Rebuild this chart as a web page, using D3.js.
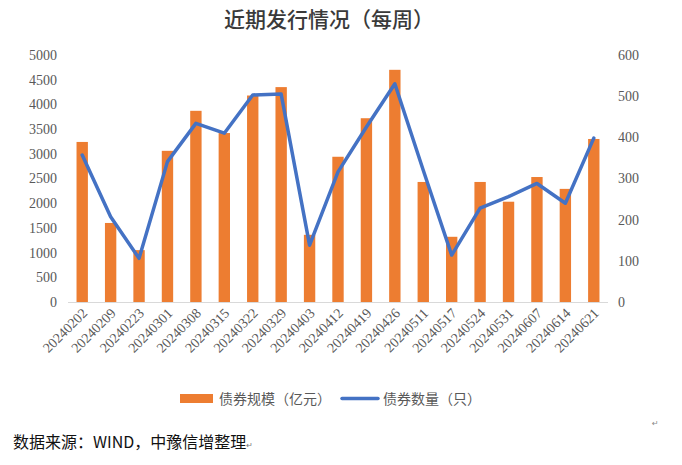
<!DOCTYPE html>
<html>
<head>
<meta charset="utf-8">
<script src="https://cdn.jsdelivr.net/npm/d3@7"></script>
<style>
  html, body { margin: 0; padding: 0; background: #fff; }
  svg { display: block; }
</style>
</head>
<body>
<svg id="chart" width="682" height="465"></svg>
<script>
const categories = ["20240202","20240209","20240223","20240301","20240308","20240315","20240322","20240329","20240403","20240412","20240419","20240426","20240511","20240517","20240524","20240531","20240607","20240614","20240621"];
const scaleValues = [3240,1600,1050,3060,3870,3420,4180,4350,1360,2940,3720,4700,2430,1320,2430,2030,2530,2290,3300];
const countValues = [357,207,106,341,434,410,503,505,138,316,425,530,320,114,228,256,288,240,398];
const leftTicks = [0,500,1000,1500,2000,2500,3000,3500,4000,4500,5000];
const rightTicks = [0,100,200,300,400,500,600];
const seriesNames = ["债券规模（亿元）","债券数量（只）"];
const titleText = "近期发行情况（每周）";
const sourceText = "数据来源：WIND，中豫信增整理";

const svg = d3.select("#chart");
const plotL = 68, plotR = 608, plotT = 55, plotB = 302;
const barColor = "#ED7D31", lineColor = "#4472C4";
const serif = "'Liberation Serif','DejaVu Serif',serif";
const cjk = "'Noto Sans CJK SC','Noto Sans',sans-serif";

const x = d3.scaleBand().domain(categories).range([plotL, plotR]).paddingInner(0.6).paddingOuter(0.3);
const yL = d3.scaleLinear().domain([0, 5000]).range([plotB, plotT]);
const yR = d3.scaleLinear().domain([0, 600]).range([plotB, plotT]);

// title
svg.append("text").attr("x", 329).attr("y", 27).attr("text-anchor", "middle")
  .attr("font-family", cjk).attr("font-size", 21).attr("font-weight", 500).attr("fill", "#3a3a3a").text(titleText);

// left axis
const gL = svg.append("g").attr("transform", `translate(${plotL - 8},0)`)
  .call(d3.axisLeft(yL).tickValues(leftTicks).tickFormat(d3.format("d")).tickSize(0).tickPadding(3));
gL.select(".domain").remove();
gL.selectAll("text").attr("font-family", serif).attr("font-size", 14).attr("fill", "#595959");

// right axis
const gR = svg.append("g").attr("transform", `translate(${plotR + 7},0)`)
  .call(d3.axisRight(yR).tickValues(rightTicks).tickFormat(d3.format("d")).tickSize(0).tickPadding(3));
gR.select(".domain").remove();
gR.selectAll("text").attr("font-family", serif).attr("font-size", 14).attr("fill", "#595959");

// bars
svg.append("g").selectAll("rect").data(categories).join("rect")
  .attr("x", d => x(d)).attr("width", x.bandwidth())
  .attr("y", (d, i) => yL(scaleValues[i]))
  .attr("height", (d, i) => yL(0) - yL(scaleValues[i]))
  .attr("fill", barColor);

// baseline
svg.append("line").attr("x1", plotL).attr("x2", plotR).attr("y1", plotB + 0.5).attr("y2", plotB + 0.5)
  .attr("stroke", "#d9d9d9").attr("stroke-width", 1);

// x axis labels
const gX = svg.append("g").attr("transform", `translate(0,${plotB})`)
  .call(d3.axisBottom(x).tickSize(0).tickPadding(0));
gX.select(".domain").remove();
gX.selectAll("text")
  .attr("font-family", serif).attr("font-size", 14).attr("fill", "#595959")
  .attr("text-anchor", "end").attr("dy", 0)
  .attr("transform", "translate(6,12) rotate(-45)");

// line
const line = d3.line().x((d, i) => x(categories[i]) + x.bandwidth() / 2).y(d => yR(d));
svg.append("path").datum(countValues).attr("d", line)
  .attr("fill", "none").attr("stroke", lineColor).attr("stroke-width", 3.5)
  .attr("stroke-linejoin", "round").attr("stroke-linecap", "round");

// legend
const lg = svg.append("g");
lg.append("rect").attr("x", 180).attr("y", 394).attr("width", 33).attr("height", 9).attr("fill", barColor);
lg.append("text").attr("x", 219).attr("y", 404).attr("font-family", cjk).attr("font-size", 14)
  .attr("fill", "#595959").text(seriesNames[0]);
lg.append("line").attr("x1", 342).attr("x2", 378).attr("y1", 398.5).attr("y2", 398.5)
  .attr("stroke", lineColor).attr("stroke-width", 3.5).attr("stroke-linecap", "round");
lg.append("text").attr("x", 383).attr("y", 404).attr("font-family", cjk).attr("font-size", 14)
  .attr("fill", "#595959").text(seriesNames[1]);

// return mark
svg.append("text").attr("x", 652).attr("y", 426).attr("font-family", "'DejaVu Sans',sans-serif")
  .attr("font-size", 8).attr("fill", "#888").text("↵");

// source
const src = svg.append("text").attr("x", 13).attr("y", 448).attr("font-family", cjk).attr("font-size", 16).attr("fill", "#111");
src.append("tspan").text(sourceText);
src.append("tspan").attr("font-size", 8).attr("fill", "#777").attr("font-family", "'DejaVu Sans',sans-serif").text("↵");
</script>
</body>
</html>
